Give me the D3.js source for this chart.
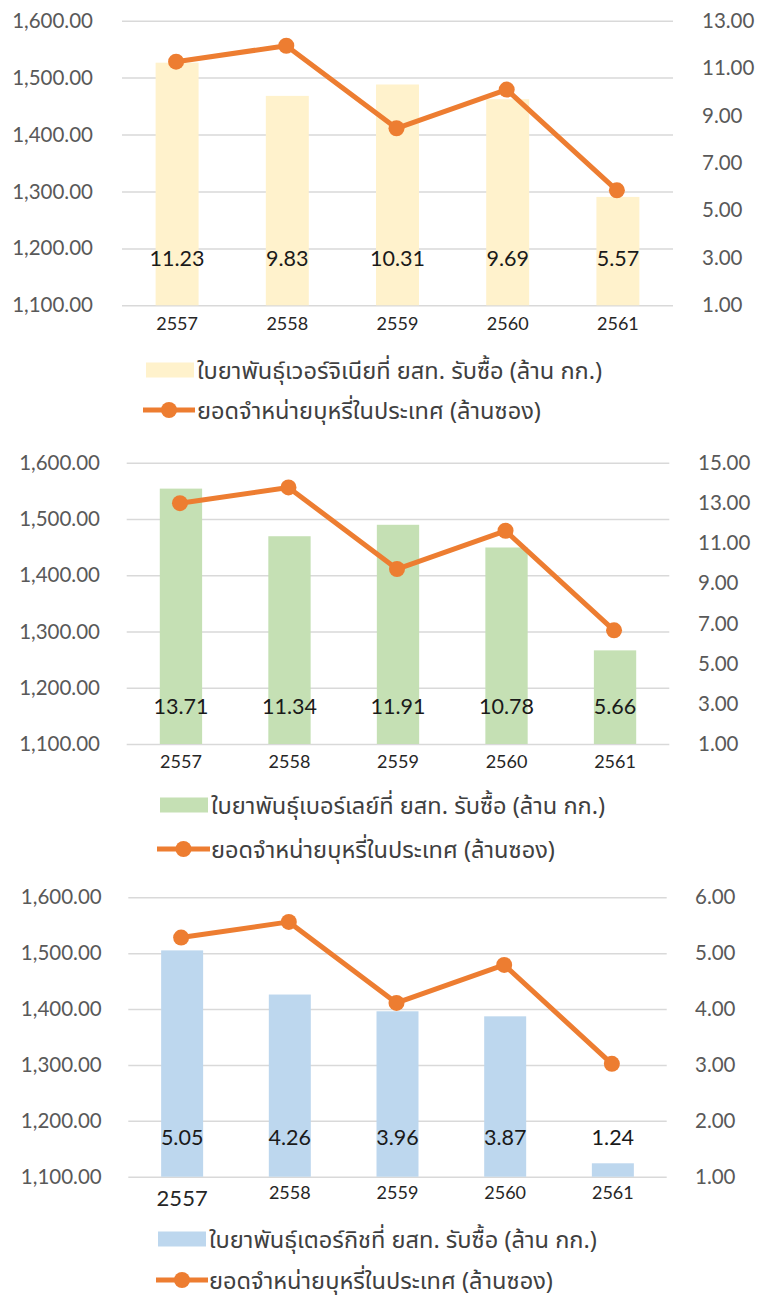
<!DOCTYPE html>
<html><head><meta charset="utf-8">
<script src="https://cdn.jsdelivr.net/npm/d3@7"></script>
<style>
html,body{margin:0;padding:0;background:#fff;}
svg{display:block;}
</style></head>
<body>
<svg id="chart" width="757" height="1296"></svg>
<script>
const years = ["2557", "2558", "2559", "2560", "2561"];
const domesticSales = [1528, 1556, 1411, 1479, 1302];
const virginiaLeaf = [11.23, 9.83, 10.31, 9.69, 5.57];
const burleyLeaf = [13.71, 11.34, 11.91, 10.78, 5.66];
const turkishLeaf = [5.05, 4.26, 3.96, 3.87, 1.24];
const leftTicks = [1100, 1200, 1300, 1400, 1500, 1600];
const rightTicksVirginia = [1, 3, 5, 7, 9, 11, 13];
const rightTicksBurley = [1, 3, 5, 7, 9, 11, 13, 15];
const rightTicksTurkish = [1, 2, 3, 4, 5, 6];
const barLegendVirginia = "ใบยาพันธุ์เวอร์จิเนียที่ ยสท. รับซื้อ (ล้าน กก.)";
const barLegendBurley = "ใบยาพันธุ์เบอร์เลย์ที่ ยสท. รับซื้อ (ล้าน กก.)";
const barLegendTurkish = "ใบยาพันธุ์เตอร์กิชที่ ยสท. รับซื้อ (ล้าน กก.)";
const lineLegend = "ยอดจำหน่ายบุหรี่ในประเทศ (ล้านซอง)";

const svg = d3.select("#chart");
const numFont = "Lato, 'Open Sans', sans-serif";
const thaiFont = "'Noto Sans', 'Noto Sans Thai', 'Leelawadee UI', Tahoma, sans-serif";
const fmt = d3.format(",.2f");
const orange = "#ED7D31";

const panels = [
  {bars: virginiaLeaf, rTicks: rightTicksVirginia, color: "#FFF2CC", legend: barLegendVirginia,
   x0: 122, x1: 673, yTop: 20.7, yBot: 305.3, leftEdge: 93, rightStart: 702, yearY: 323, labOff: 47,
   swX: 146, swY: 370, lgX: 197, lnY: 410, lnX0: 143, lnX1: 195, firstYearBig: false},
  {bars: burleyLeaf, rTicks: rightTicksBurley, color: "#C5E0B4", legend: barLegendBurley,
   x0: 126.7, x1: 669.3, yTop: 462.7, yBot: 744, leftEdge: 100, rightStart: 698, yearY: 761, labOff: 38,
   swX: 160, swY: 805, lgX: 211, lnY: 849, lnX0: 157, lnX1: 210, firstYearBig: false},
  {bars: turkishLeaf, rTicks: rightTicksTurkish, color: "#BDD7EE", legend: barLegendTurkish,
   x0: 128.3, x1: 666.7, yTop: 897.3, yBot: 1176.7, leftEdge: 101.7, rightStart: 695, yearY: 1192, labOff: 40,
   swX: 158, swY: 1239, lgX: 209, lnY: 1280, lnX0: 156, lnX1: 208, firstYearBig: true}
];

panels.forEach(p => {
  const g = svg.append("g");
  const x = d3.scaleBand().domain(years).range([p.x0, p.x1]).paddingInner(0.61).paddingOuter(0.305);
  const xc = d => x(d) + x.bandwidth() / 2;
  const yL = d3.scaleLinear().domain([1100, 1600]).range([p.yBot, p.yTop]);
  const yR = d3.scaleLinear().domain(d3.extent(p.rTicks)).range([p.yBot, p.yTop]);

  // gridlines
  const gl = d3.axisLeft(yL).tickValues(leftTicks).tickSize(-(p.x1 - p.x0)).tickFormat("");
  const gg = g.append("g").attr("transform", `translate(${p.x0},0)`).call(gl);
  gg.select(".domain").remove();
  gg.selectAll(".tick line").attr("stroke", "#D9D9D9").attr("stroke-width", 1.5);

  // left axis labels
  const la = d3.axisLeft(yL).tickValues(leftTicks).tickSize(0).tickPadding(0).tickFormat(fmt);
  const lg = g.append("g").attr("transform", `translate(${p.leftEdge},0)`).call(la);
  lg.select(".domain").remove();
  lg.selectAll("text").attr("font-family", numFont).attr("font-size", 20.5).attr("fill", "#595959");

  // right axis labels
  const ra = d3.axisRight(yR).tickValues(p.rTicks).tickSize(0).tickPadding(0).tickFormat(d3.format(".2f"));
  const rg = g.append("g").attr("transform", `translate(${p.rightStart},0)`).call(ra);
  rg.select(".domain").remove();
  rg.selectAll("text").attr("font-family", numFont).attr("font-size", 20.5).attr("fill", "#595959");

  // bars
  g.selectAll("rect.bar").data(p.bars).join("rect").attr("class", "bar")
    .attr("x", (d, i) => x(years[i])).attr("width", x.bandwidth())
    .attr("y", d => yR(d)).attr("height", d => p.yBot - yR(d)).attr("fill", p.color);

  // bar labels
  g.selectAll("text.blab").data(p.bars).join("text").attr("class", "blab")
    .attr("x", (d, i) => xc(years[i])).attr("y", p.yBot - p.labOff)
    .attr("text-anchor", "middle").attr("dominant-baseline", "central")
    .attr("font-family", numFont).attr("font-size", 21.5).attr("fill", "#1a1a1a")
    .text(d => d.toFixed(2));

  // year labels
  g.selectAll("text.yr").data(years).join("text").attr("class", "yr")
    .attr("x", d => xc(d)).attr("y", (d, i) => (p.firstYearBig && i === 0) ? p.yearY + 5 : p.yearY)
    .attr("text-anchor", "middle").attr("dominant-baseline", "central")
    .attr("font-family", numFont).attr("font-size", (d, i) => (p.firstYearBig && i === 0) ? 22 : 18)
    .attr("fill", "#262626").text(d => d);

  // line
  const line = d3.line().x((d, i) => xc(years[i]) - 1).y(d => yL(d));
  g.append("path").datum(domesticSales).attr("d", line).attr("fill", "none")
    .attr("stroke", orange).attr("stroke-width", 5).attr("stroke-linejoin", "round");
  g.selectAll("circle.pt").data(domesticSales).join("circle").attr("class", "pt")
    .attr("cx", (d, i) => xc(years[i]) - 1).attr("cy", d => yL(d)).attr("r", 8).attr("fill", orange);

  // legend
  g.append("rect").attr("x", p.swX).attr("y", p.swY - 7.5).attr("width", 48).attr("height", 15).attr("fill", p.color);
  g.append("text").attr("x", p.lgX).attr("y", p.swY).attr("dominant-baseline", "central")
    .attr("font-family", thaiFont).attr("font-size", 23.6).attr("fill", "#404040").text(p.legend);
  g.append("line").attr("x1", p.lnX0).attr("x2", p.lnX1).attr("y1", p.lnY).attr("y2", p.lnY)
    .attr("stroke", orange).attr("stroke-width", 5);
  g.append("circle").attr("cx", (p.lnX0 + p.lnX1) / 2).attr("cy", p.lnY).attr("r", 8).attr("fill", orange);
  g.append("text").attr("x", p.lgX).attr("y", p.lnY).attr("dominant-baseline", "central")
    .attr("font-family", thaiFont).attr("font-size", 23.6).attr("fill", "#404040").text(lineLegend);
});
</script>
</body></html>
